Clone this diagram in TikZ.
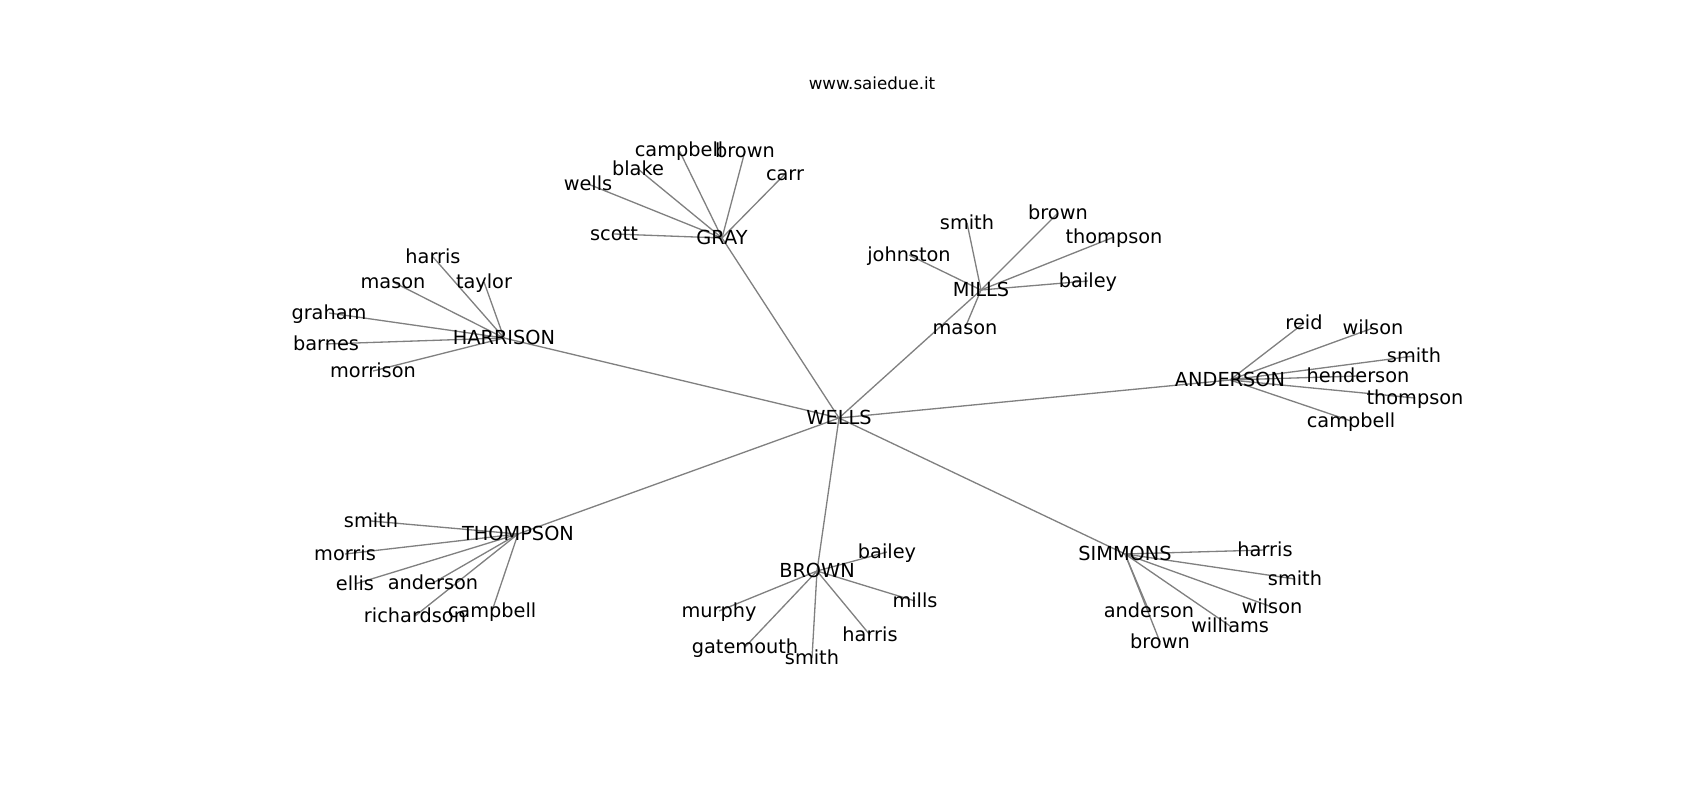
\documentclass[tikz,border=0pt]{standalone}
\usepackage{fontspec}
\setmainfont{DejaVu Sans}
\usetikzlibrary{backgrounds}

\begin{document}
\begin{tikzpicture}[x=0.02cm,y=-0.02cm,
    person/.style={font=\fontsize{11}{13}\selectfont,inner sep=0pt,
      text height=.88em,text depth=.09em},
    link/.style={draw=gray,line width=.75pt}]
 \useasboundingbox (0,0) rectangle (1700,800);
 \node[font=\fontsize{9.5}{11}\selectfont] (site) at (872,83) {www.saiedue.it};
 \node[person] (wells) at (839,418) {WELLS};
 % families round the centre
 \foreach \N/\X/\Y in {GRAY/722/238,MILLS/981/290,HARRISON/504/338,ANDERSON/1230/380,
   THOMPSON/518/534,BROWN/817/571,SIMMONS/1125/554}
 {\node[person] (\N) at (\X,\Y) {\N};
  \scoped[on background layer] \draw[link] (wells.center) -- (\N.center);}
 % leaves
 \foreach \N/\X/\Y in {campbell/679/150,brown/745/151,blake/638/169,wells/588/184,
   carr/785/174,scott/614/234}
 {\node[person] (gray-\N) at (\X,\Y) {\N};
  \scoped[on background layer] \draw[link] (GRAY.center) -- (gray-\N.center);}
 \foreach \N/\X/\Y in {smith/967/223,brown/1058/213,thompson/1114/237,johnston/909/255,
   bailey/1088/281,mason/965/328}
 {\node[person] (mills-\N) at (\X,\Y) {\N};
  \scoped[on background layer] \draw[link] (MILLS.center) -- (mills-\N.center);}
 \foreach \N/\X/\Y in {harris/433/257,mason/393/282,taylor/484/282,graham/329/313,
   barnes/326/344,morrison/373/371}
 {\node[person] (harrison-\N) at (\X,\Y) {\N};
  \scoped[on background layer] \draw[link] (HARRISON.center) -- (harrison-\N.center);}
 \foreach \N/\X/\Y in {reid/1304/323,wilson/1373/328,smith/1414/356,henderson/1358/376,
   thompson/1415/398,campbell/1351/421}
 {\node[person] (anderson-\N) at (\X,\Y) {\N};
  \scoped[on background layer] \draw[link] (ANDERSON.center) -- (anderson-\N.center);}
 \foreach \N/\X/\Y in {smith/371/521,morris/345/554,ellis/355/584,anderson/433/583,
   richardson/415/616,campbell/492/611}
 {\node[person] (thompson-\N) at (\X,\Y) {\N};
  \scoped[on background layer] \draw[link] (THOMPSON.center) -- (thompson-\N.center);}
 \foreach \N/\X/\Y in {bailey/887/552,murphy/719/611,mills/915/601,harris/870/635,
   smith/812/658,gatemouth/745/647}
 {\node[person] (brown-\N) at (\X,\Y) {\N};
  \scoped[on background layer] \draw[link] (BROWN.center) -- (brown-\N.center);}
 \foreach \N/\X/\Y in {harris/1265/550,smith/1295/579,wilson/1272/607,williams/1230/626,
   anderson/1149/611,brown/1160/642}
 {\node[person] (simmons-\N) at (\X,\Y) {\N};
  \scoped[on background layer] \draw[link] (SIMMONS.center) -- (simmons-\N.center);}
\end{tikzpicture}
\end{document}
